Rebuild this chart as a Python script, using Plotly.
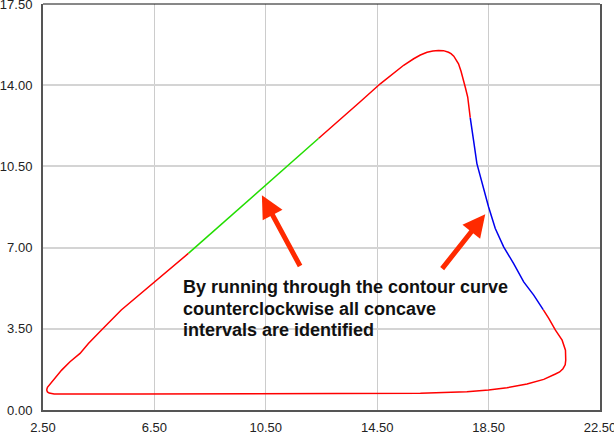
import plotly.graph_objects as go

# Contour traced counterclockwise, split into runs; concave runs are drawn green / blue.
bottom_right_x = [2.63, 2.66, 2.72, 2.80, 2.90, 6.0, 10.0, 14.0, 15.33, 16.05, 16.88, 17.72,
                  18.50, 19.16, 19.88, 20.48, 20.90, 21.05, 21.17, 21.25, 21.27, 21.26, 21.14,
                  20.90, 20.66, 20.46]
bottom_right_y = [0.86, 0.78, 0.73, 0.70, 0.69, 0.69, 0.69, 0.69, 0.69, 0.72, 0.75, 0.79,
                  0.86, 0.96, 1.12, 1.32, 1.55, 1.64, 1.78, 1.95, 2.15, 2.58, 3.01,
                  3.44, 3.95, 4.33]

concave_right_x = [20.46, 20.12, 19.76, 19.40, 19.04, 18.74, 18.50, 18.26, 18.08, 17.96, 17.84]
concave_right_y = [4.33, 4.95, 5.52, 6.31, 7.03, 7.82, 8.75, 9.76, 10.62, 11.62, 12.60]

peak_x = [17.84, 17.75, 17.67, 17.60, 17.51, 17.42, 17.33, 17.25, 17.15, 17.06, 16.88,
          16.70, 16.50, 16.29, 16.05, 15.81, 15.45, 15.09, 14.61, 13.90, 13.20, 12.39]
peak_y = [12.60, 13.49, 13.88, 14.21, 14.60, 14.92, 15.12, 15.25, 15.36, 15.42, 15.49,
          15.50, 15.47, 15.42, 15.30, 15.14, 14.86, 14.52, 14.06, 13.30, 12.55, 11.70]

concave_left_x = [12.39, 11.50, 10.50, 9.40, 8.50, 7.72]
concave_left_y = [11.70, 10.75, 9.70, 8.53, 7.58, 6.75]

lower_left_x = [7.72, 7.14, 6.44, 5.90, 5.31, 4.61, 4.13, 3.83, 3.47, 3.17, 2.87, 2.73,
                2.66, 2.63]
lower_left_y = [6.75, 6.17, 5.46, 4.90, 4.31, 3.46, 2.87, 2.44, 2.08, 1.72, 1.29, 1.10,
                0.98, 0.86]

x_ticks = [2.5, 6.5, 10.5, 14.5, 18.5, 22.5]
y_ticks = [0.0, 3.5, 7.0, 10.5, 14.0, 17.5]

note_lines = ["By running through the contour curve",
              "counterclockwise all concave",
              "intervals are identified"]
note_x = 7.46
note_y = [5.30, 4.35, 3.44]

# Arrows: (tip x, tip y, tail x, tail y)
arrows = [(10.36, 9.26, 11.76, 6.14), (18.38, 8.44, 16.79, 6.03)]

RED = "#ff0000"
GREEN = "#22dd00"
BLUE = "#0000ee"

fig = go.Figure()
for xs, ys, col in [
    (bottom_right_x, bottom_right_y, RED),
    (concave_right_x, concave_right_y, BLUE),
    (peak_x, peak_y, RED),
    (concave_left_x, concave_left_y, GREEN),
    (lower_left_x, lower_left_y, RED),
]:
    fig.add_trace(go.Scatter(x=xs, y=ys, mode="lines",
                             line=dict(color=col, width=1.5),
                             showlegend=False, hoverinfo="skip"))

note_font = dict(family="Liberation Sans, Arial, sans-serif", size=18,
                 color="#111111", weight="bold")
annotations = [dict(x=note_x, y=ly, xref="x", yref="y", xanchor="left", yanchor="middle",
                    align="left", showarrow=False, text=txt, font=note_font)
               for txt, ly in zip(note_lines, note_y)]
for tx, ty, sx, sy in arrows:
    annotations.append(dict(x=tx, y=ty, ax=sx, ay=sy, xref="x", yref="y", axref="x", ayref="y",
                            text="", showarrow=True, arrowhead=2, arrowsize=0.9,
                            arrowwidth=5, arrowcolor="#ff2a00", standoff=0))

axis_font = dict(family="Liberation Sans, Arial, sans-serif", size=13, color="#222222")
fig.update_layout(
    width=614, height=441,
    margin=dict(l=43, r=14, t=4, b=31),
    paper_bgcolor="white", plot_bgcolor="white",
    xaxis=dict(range=[2.5, 22.5], tickvals=x_ticks, ticktext=[f"{v:.2f}" for v in x_ticks],
               showgrid=True, gridcolor="#cccccc", gridwidth=1, zeroline=False,
               showline=True, linecolor="#555555", linewidth=2, ticks="",
               ticklabelstandoff=4, ticklabeloverflow="allow", automargin=False,
               tickfont=axis_font),
    yaxis=dict(range=[0, 17.5], tickvals=y_ticks, ticktext=[f"{v:.2f}" for v in y_ticks],
               showgrid=True, gridcolor="#d4d4d4", gridwidth=2, zeroline=False,
               showline=True, linecolor="#555555", linewidth=2, mirror=True, ticks="",
               ticklabelstandoff=6, ticklabeloverflow="allow", automargin=False,
               tickfont=axis_font),
    annotations=annotations,
    shapes=[dict(type="line", xref="paper", yref="paper", x0=0, x1=1, y0=1, y1=1,
                 line=dict(color="#111111", width=1))],
)

fig.write_html("out.html")
